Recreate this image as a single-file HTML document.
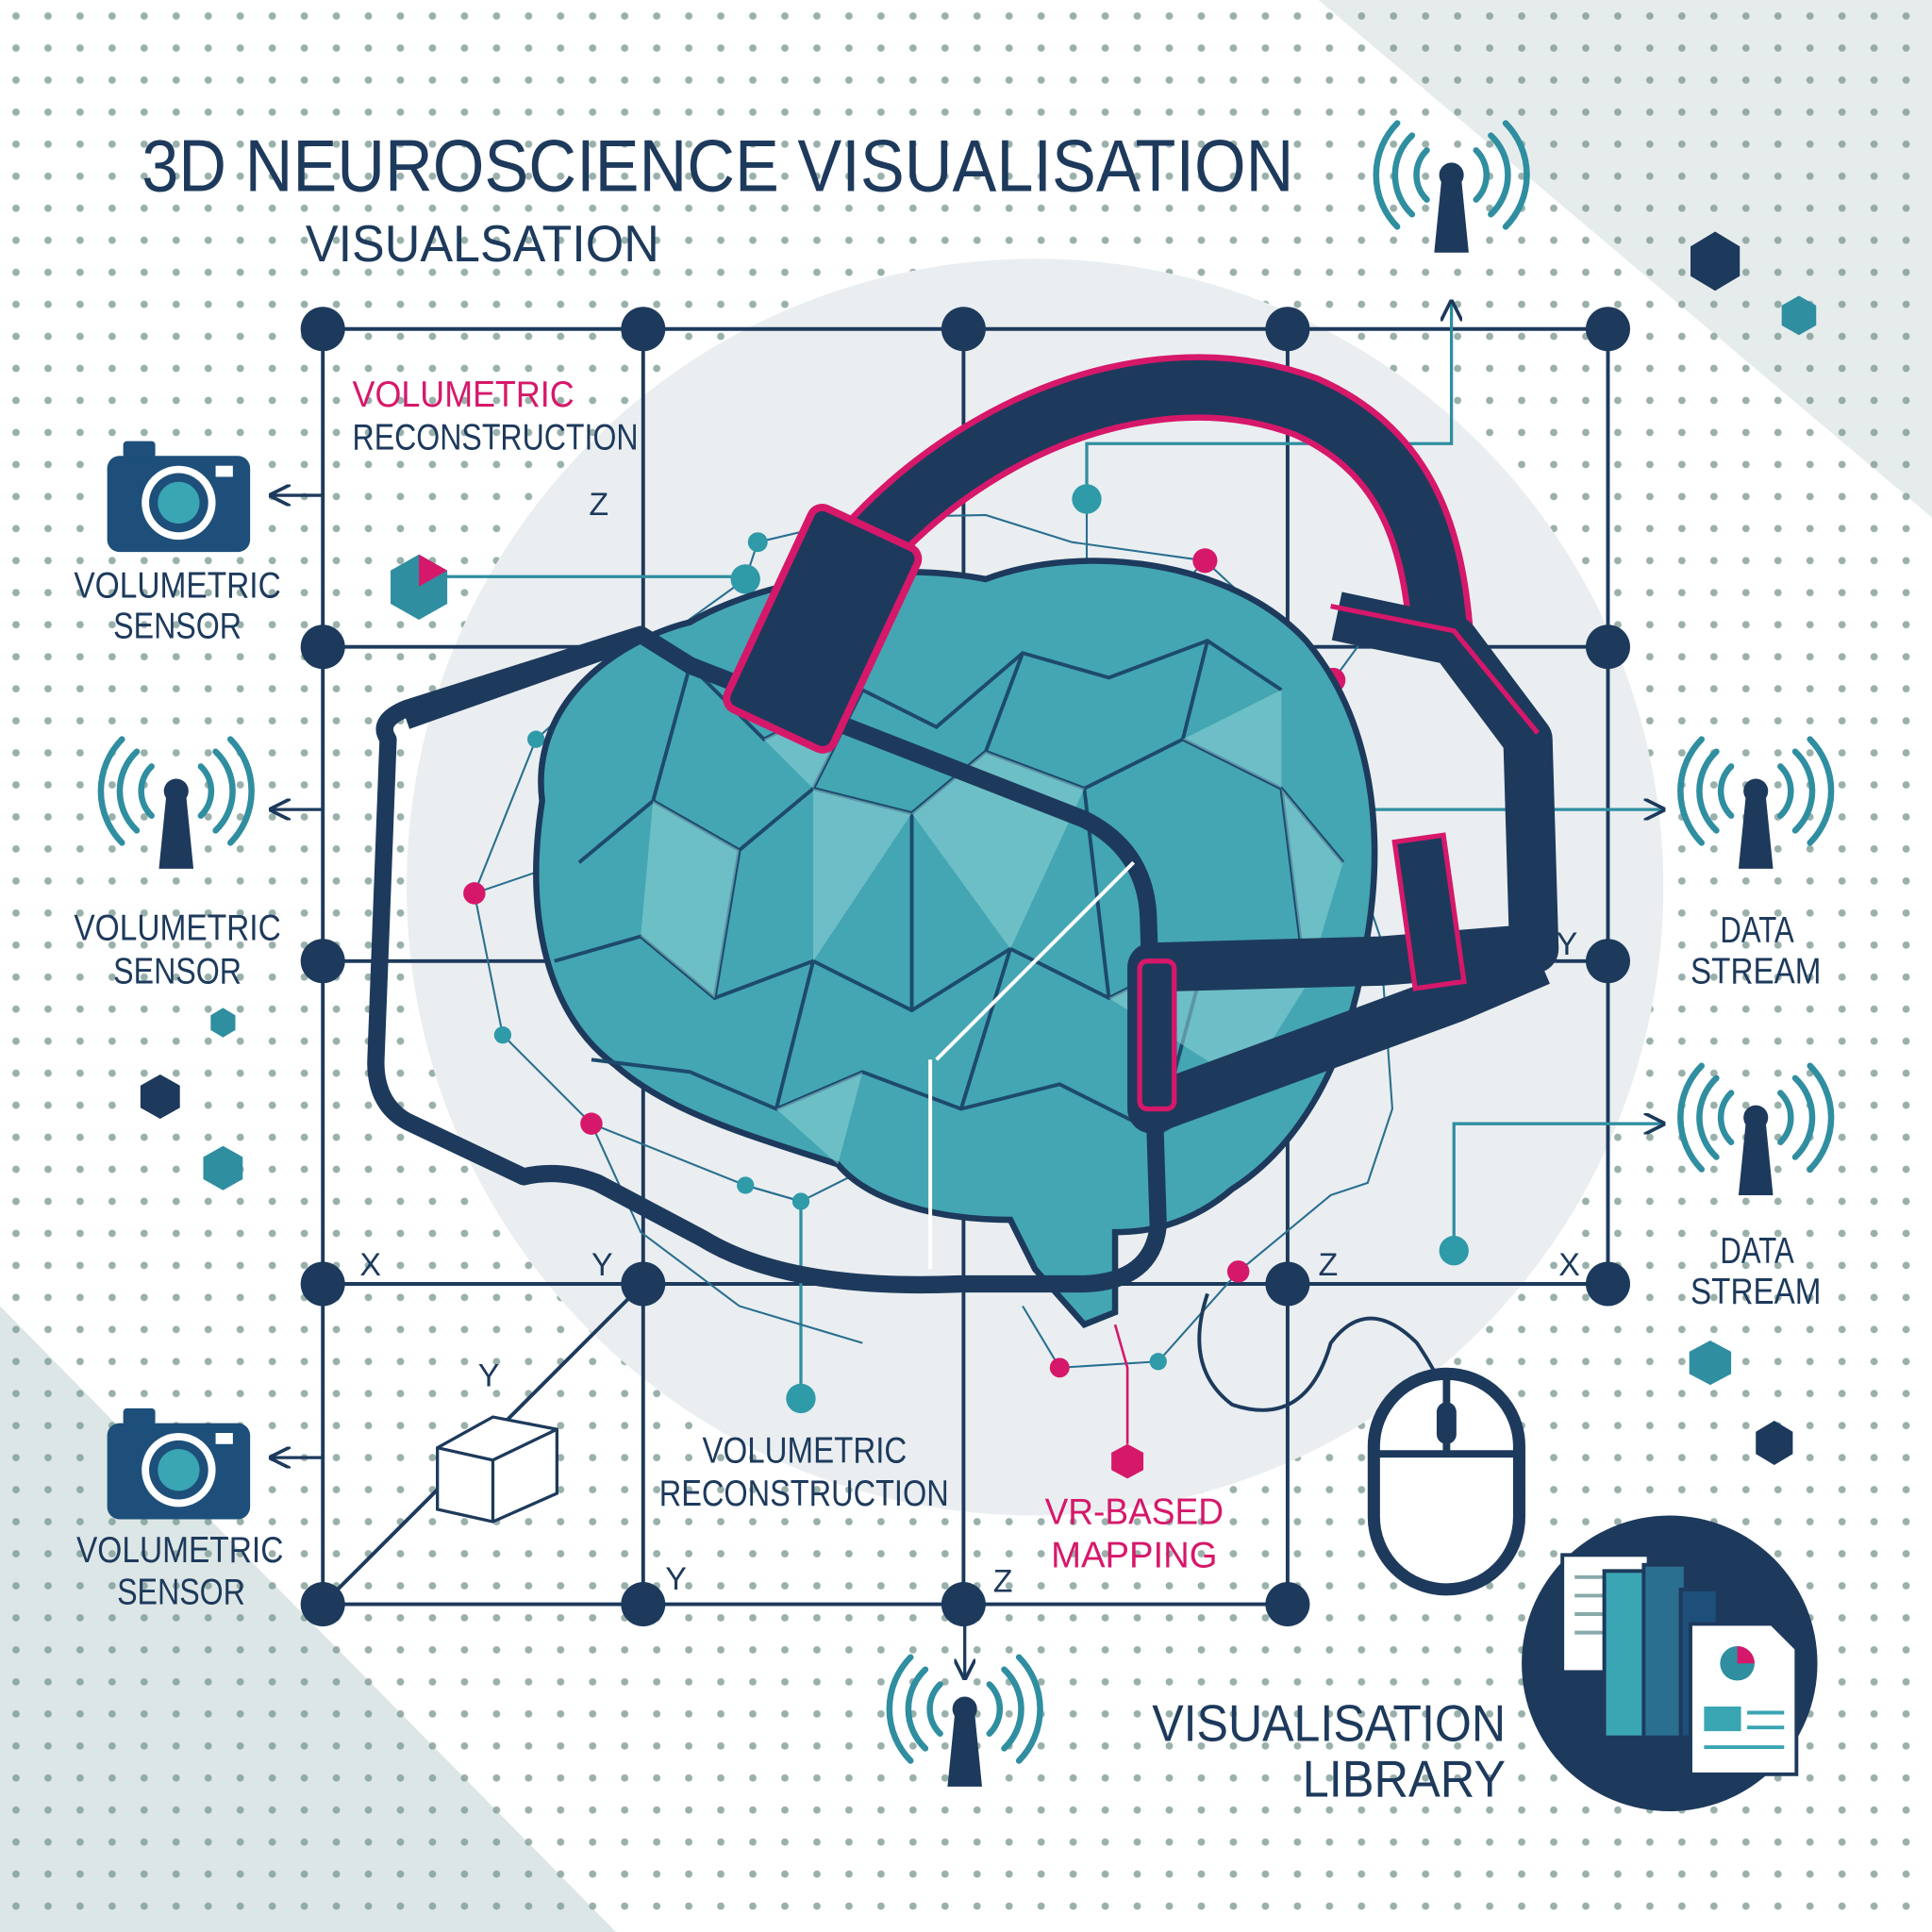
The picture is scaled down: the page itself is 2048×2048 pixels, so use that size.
<!DOCTYPE html>
<html><head><meta charset="utf-8"><style>
html,body{margin:0;padding:0;background:#fff;}
svg{display:block;}
text{font-family:"Liberation Sans",sans-serif;}
</style></head><body>
<svg width="2048" height="2048" viewBox="0 0 1568 1568" xmlns="http://www.w3.org/2000/svg">
<defs>
<pattern id="dots" width="26" height="26" patternUnits="userSpaceOnUse">
<circle cx="13" cy="13" r="3" fill="#7f9c96"/>
</pattern>
<marker id="ar" viewBox="0 0 10 10" refX="9" refY="5" markerWidth="7" markerHeight="7" orient="auto">
<path d="M0,0 L10,5 L0,10" fill="none" stroke="#1d3a5c" stroke-width="1.6"/>
</marker>
<g id="ant">
<path d="M-8,-5 L8,-5 L14,55 L-14,55 Z" fill="#1d3a5c"/>
<circle cx="0" cy="-8" r="10" fill="#1d3a5c"/>
<g fill="none" stroke="#2f8ea0" stroke-width="5" stroke-linecap="round">
<path d="M-20,-28 A28,28 0 0 0 -20,12"/><path d="M20,-28 A28,28 0 0 1 20,12"/>
<path d="M-32,-40 A44,44 0 0 0 -32,24"/><path d="M32,-40 A44,44 0 0 1 32,24"/>
<path d="M-44,-50 A60,60 0 0 0 -44,34"/><path d="M44,-50 A60,60 0 0 1 44,34"/>
</g>
</g>
<g id="cam">
<rect x="-58" y="-35" width="116" height="78" rx="10" fill="#1d4f7a"/>
<rect x="-45" y="-47" width="26" height="14" rx="3" fill="#1d4f7a"/>
<rect x="30" y="-27" width="14" height="9" fill="#fff"/>
<circle cx="0" cy="3" r="30" fill="#fff"/>
<circle cx="0" cy="3" r="24" fill="#1d4f7a"/>
<circle cx="0" cy="3" r="17" fill="#3aa5b3"/>
</g>
</defs>
<rect width="1568" height="1568" fill="#fff"/>
<polygon points="1070,0 1568,0 1568,420" fill="#e6ecec"/>
<polygon points="0,1060 0,1568 500,1568" fill="#dde6e6"/>
<rect width="1568" height="1568" fill="url(#dots)" opacity="0.8"/>
<circle cx="840" cy="720" r="510" fill="#eaeef1"/>
<!-- grid -->
<g stroke="#1d3a5c" stroke-width="3" fill="none">
<path d="M262,267 H1305 M262,525 H1305 M262,780 H1305 M262,1042 H1305 M262,1302 H1045"/>
<path d="M262,267 V1302 M522,267 V1302 M782,267 V1302 M1045,267 V1302 M1305,267 V1042"/>
<path d="M262,1302 L522,1042"/>
</g>
<g fill="#1d3a5c">
<circle cx="262" cy="267" r="18"/><circle cx="522" cy="267" r="18"/><circle cx="782" cy="267" r="18"/><circle cx="1045" cy="267" r="18"/><circle cx="1305" cy="267" r="18"/>
<circle cx="262" cy="525" r="18"/><circle cx="1305" cy="525" r="18"/>
<circle cx="262" cy="780" r="18"/><circle cx="1305" cy="780" r="18"/>
<circle cx="262" cy="1042" r="18"/><circle cx="522" cy="1042" r="18"/><circle cx="1045" cy="1042" r="18"/><circle cx="1305" cy="1042" r="18"/>
<circle cx="262" cy="1302" r="18"/><circle cx="522" cy="1302" r="18"/><circle cx="782" cy="1302" r="18"/><circle cx="1045" cy="1302" r="18"/>
</g>
<!-- connectors -->
<g stroke="#1d3a5c" stroke-width="2.5" fill="none" marker-end="url(#ar)">
<path d="M262,402 H220"/><path d="M262,657 H220"/><path d="M262,1183 H220"/>
<path d="M783,1302 V1362"/>
</g>
<g stroke="#2f8ea0" stroke-width="2.5" fill="none">
<path d="M882,405 V360 H1178 V245" marker-end="url(#ar)"/>
<path d="M1085,657 H1350" marker-end="url(#ar)"/>
<path d="M1180,1015 V912 H1350" marker-end="url(#ar)"/>
<path d="M350,468 H605"/>
<path d="M650,975 V1135"/>
</g>
<!-- network lines -->
<g stroke="#2a6f8f" stroke-width="1.6" fill="none">
<path d="M615,440 L605,470 L480,560 L435,600 L385,725 L408,840 L480,912 L605,962 L650,975"/>
<path d="M615,440 L700,420 L800,418 L870,440 L978,455 L1082,552 L1085,657 L1120,760 L1130,900 L1110,960 L1080,970 L1005,1032"/>
<path d="M605,650 L435,600 M605,650 L385,725 M870,570 L978,455 M870,570 L1082,552 M1082,552 L1120,500 M882,405 V570"/>
<path d="M480,912 L520,1000 L600,1060 L700,1090 M1005,1032 L940,1105 L860,1110 L830,1060"/>
<path d="M605,962 L650,975 L720,940"/>
</g>
<g fill="#2f9aa8">
<circle cx="615" cy="440" r="8"/><circle cx="605" cy="470" r="12"/><circle cx="435" cy="600" r="7"/><circle cx="408" cy="840" r="7"/>
<circle cx="605" cy="962" r="7"/><circle cx="650" cy="975" r="7"/><circle cx="882" cy="405" r="12"/><circle cx="1085" cy="657" r="12"/>
<circle cx="650" cy="1135" r="12"/><circle cx="1180" cy="1015" r="12"/><circle cx="940" cy="1105" r="7"/>
</g>
<g fill="#d6186a">
<circle cx="605" cy="650" r="10"/><circle cx="385" cy="725" r="9"/><circle cx="480" cy="912" r="9"/><circle cx="870" cy="570" r="10"/>
<circle cx="978" cy="455" r="10"/><circle cx="1082" cy="552" r="10"/><circle cx="1005" cy="1032" r="9"/><circle cx="860" cy="1110" r="8"/>
</g>
<!-- brain -->
<path d="M440,650 C430,570 500,520 560,505 C620,470 720,455 800,470 C880,440 1000,455 1060,520 C1115,585 1125,680 1108,770 C1095,860 1055,930 1000,965 C965,995 930,1000 905,1000 L905,1065 L880,1075 L840,1030 L820,990 C760,990 705,975 680,945 C620,925 545,905 500,865 C445,825 425,745 440,650 Z" fill="#44a6b3" stroke="#1d3a5c" stroke-width="5"/>
<g stroke="#1d4a6c" stroke-width="3" fill="none">
<path d="M470,700 L530,650 L600,690 L660,640 L740,660 L800,610 L880,640 L960,600 L1040,640 L1090,700"/>
<path d="M450,780 L520,760 L580,810 L660,780 L740,820 L820,770 L900,810 L980,770 L1060,800 L1100,780"/>
<path d="M480,860 L560,870 L630,900 L700,870 L780,900 L860,880 L940,920 L1010,880"/>
<path d="M560,540 L620,600 L700,560 L760,590 L830,530 L900,550 L980,520 L1040,560"/>
<path d="M530,650 L560,540 M600,690 L580,810 M660,640 L700,560 M740,660 L740,820 M800,610 L830,530 M880,640 L900,810 M960,600 L980,520 M1040,640 L1060,800 M660,780 L630,900 M820,770 L780,900 M980,770 L940,920"/>
</g>
<g fill="#8fd3d6" opacity="0.55">
<polygon points="530,650 600,690 580,810 520,760"/><polygon points="740,660 800,610 880,640 820,770"/>
<polygon points="900,810 980,770 1060,800 1010,880"/><polygon points="620,600 700,560 660,640"/>
<polygon points="960,600 1040,640 1040,560"/><polygon points="630,900 700,870 680,945"/>
<polygon points="660,640 740,660 660,780"/><polygon points="1040,640 1090,700 1060,800"/>
</g>
<!-- headset goggles -->
<path d="M315,600 Q305,585 330,575 L520,515 L560,540 L880,665 Q930,690 932,745 L940,995 Q935,1040 880,1042 L780,1042 Q640,1048 570,1005 L485,960 Q455,948 425,955 L330,910 Q305,896 305,862 Z" fill="none" stroke="#1d3a5c" stroke-width="14" stroke-linejoin="round"/>
<path d="M330,585 L500,525" stroke="#1d3a5c" stroke-width="14"/>
<path d="M760,860 L920,700" stroke="#fff" stroke-width="3"/>
<path d="M755,860 L755,1030" stroke="#fff" stroke-width="3"/>
<!-- strap -->
<path d="M620,580 C690,390 900,270 1060,330 C1150,370 1165,450 1170,530" fill="none" stroke="#d6186a" stroke-width="54"/>
<path d="M620,580 C690,390 900,270 1060,330 C1150,370 1165,450 1170,530" fill="none" stroke="#1d3a5c" stroke-width="44"/>
<path d="M1085,500 L1180,520 L1240,600 L1245,770 L1120,780 L935,785 L935,900 L1180,810 L1250,780" fill="none" stroke="#1d3a5c" stroke-width="40" stroke-linejoin="round"/>
<path d="M1080,492 L1180,512 L1248,595" fill="none" stroke="#d6186a" stroke-width="4"/>
<rect x="925" y="780" width="28" height="120" rx="6" fill="#1d3a5c" stroke="#d6186a" stroke-width="4"/>
<rect x="1140" y="680" width="40" height="120" fill="#1d3a5c" stroke="#d6186a" stroke-width="4" transform="rotate(-8 1160 740)"/>
<rect x="620" y="420" width="95" height="180" rx="10" fill="#1d3a5c" stroke="#d6186a" stroke-width="6" transform="rotate(25 667 510)"/>
<!-- title -->
<text x="115" y="155" font-size="60" fill="#1d3a5c" textLength="935" lengthAdjust="spacingAndGlyphs">3D NEUROSCIENCE VISUALISATION</text>
<text x="248" y="212" font-size="42" fill="#1d3a5c" textLength="287" lengthAdjust="spacingAndGlyphs">VISUALSATION</text>
<g font-size="30" fill="#1d3a5c" lengthAdjust="spacingAndGlyphs">
<text x="286" y="330" fill="#d6186a" textLength="180" lengthAdjust="spacingAndGlyphs">VOLUMETRIC</text>
<text x="286" y="365" textLength="232" lengthAdjust="spacingAndGlyphs">RECONSTRUCTION</text>
<text x="478" y="418" font-size="26">Z</text>
<text x="60" y="485" textLength="168" lengthAdjust="spacingAndGlyphs">VOLUMETRIC</text><text x="92" y="518" textLength="104" lengthAdjust="spacingAndGlyphs">SENSOR</text>
<text x="60" y="763" textLength="168" lengthAdjust="spacingAndGlyphs">VOLUMETRIC</text><text x="92" y="798" textLength="104" lengthAdjust="spacingAndGlyphs">SENSOR</text>
<text x="62" y="1268" textLength="168" lengthAdjust="spacingAndGlyphs">VOLUMETRIC</text><text x="95" y="1302" textLength="104" lengthAdjust="spacingAndGlyphs">SENSOR</text>
<text x="1396" y="765" textLength="60" lengthAdjust="spacingAndGlyphs">DATA</text><text x="1372" y="798" textLength="106" lengthAdjust="spacingAndGlyphs">STREAM</text>
<text x="1396" y="1025" textLength="60" lengthAdjust="spacingAndGlyphs">DATA</text><text x="1372" y="1058" textLength="106" lengthAdjust="spacingAndGlyphs">STREAM</text>
<text x="570" y="1187" textLength="166" lengthAdjust="spacingAndGlyphs">VOLUMETRIC</text><text x="535" y="1222" textLength="235" lengthAdjust="spacingAndGlyphs">RECONSTRUCTION</text>
<text x="848" y="1237" fill="#d6186a" textLength="145" lengthAdjust="spacingAndGlyphs">VR-BASED</text><text x="853" y="1272" fill="#d6186a" textLength="135" lengthAdjust="spacingAndGlyphs">MAPPING</text>
<text x="935" y="1413" font-size="42" textLength="287" lengthAdjust="spacingAndGlyphs">VISUALISATION</text><text x="1057" y="1458" font-size="42" textLength="165" lengthAdjust="spacingAndGlyphs">LIBRARY</text>
<g font-size="26"><text x="292" y="1035">X</text><text x="480" y="1035">Y</text><text x="1070" y="1035">Z</text><text x="1265" y="1035">X</text>
<text x="1263" y="775">Y</text><text x="388" y="1125">Y</text><text x="540" y="1290">Y</text><text x="806" y="1292">Z</text></g>
</g>
<!-- icons -->
<use href="#cam" x="145" y="405"/><use href="#cam" x="145" y="1190"/>
<use href="#ant" x="143" y="650"/><use href="#ant" x="1178" y="150"/><use href="#ant" x="1425" y="650"/><use href="#ant" x="1425" y="915"/><use href="#ant" x="783" y="1395"/>
<!-- hexagons -->
<g fill="#1d3a5c">
<polygon points="1392,188 1412,200 1412,224 1392,236 1372,224 1372,200"/>
<polygon points="130,872 146,881 146,899 130,908 114,899 114,881"/>
<polygon points="1440,1153 1455,1162 1455,1180 1440,1189 1425,1180 1425,1162"/>
</g>
<g fill="#2f8ea0">
<polygon points="1460,240 1474,248 1474,264 1460,272 1446,264 1446,248"/>
<polygon points="181,818 191,824 191,836 181,842 171,836 171,824"/>
<polygon points="181,930 197,939 197,957 181,966 165,957 165,939"/>
<polygon points="1388,1088 1405,1097 1405,1115 1388,1124 1371,1115 1371,1097"/>
</g>
<polygon points="340,450 363,463 363,490 340,503 317,490 317,463" fill="#2f8ea0"/>
<polygon points="340,450 363,463 340,476" fill="#d6186a"/>
<polygon points="915,1172 928,1179 928,1193 915,1200 902,1193 902,1179" fill="#d6186a"/>
<path d="M905,1075 L915,1110 L915,1172" stroke="#d6186a" stroke-width="2" fill="none"/>
<!-- cube -->
<g stroke="#1d3a5c" stroke-width="2.5" fill="#fff">
<polygon points="355,1175 400,1150 452,1160 452,1212 400,1235 355,1225"/>
<path d="M355,1175 L400,1185 L452,1160 M400,1185 V1235" fill="none"/>
</g>
<!-- mouse -->
<path d="M980,1050 Q960,1110 1000,1140 Q1060,1160 1080,1090 Q1110,1050 1150,1090 Q1170,1120 1170,1130" fill="none" stroke="#1d3a5c" stroke-width="3"/>
<rect x="1115" y="1115" width="118" height="175" rx="59" fill="#fff" stroke="#1d3a5c" stroke-width="10"/>
<path d="M1115,1180 H1233 M1174,1115 V1180" stroke="#1d3a5c" stroke-width="6"/>
<rect x="1166" y="1138" width="16" height="34" rx="8" fill="#1d3a5c"/>
<!-- library -->
<circle cx="1355" cy="1350" r="120" fill="#1d3a5c"/>
<rect x="1268" y="1262" width="70" height="95" fill="#fff" stroke="#1d3a5c" stroke-width="3"/>
<g stroke="#8aa" stroke-width="3"><path d="M1278,1280 H1328 M1278,1295 H1328 M1278,1310 H1328 M1278,1325 H1328"/></g>
<rect x="1302" y="1275" width="34" height="135" fill="#3aa5b3" stroke="#1d3a5c" stroke-width="3"/>
<rect x="1334" y="1270" width="34" height="140" fill="#2b6f90" stroke="#1d3a5c" stroke-width="3"/>
<rect x="1364" y="1290" width="30" height="120" fill="#1d4f7a" stroke="#1d3a5c" stroke-width="3"/>
<path d="M1372,1318 H1438 L1458,1338 V1440 H1372 Z" fill="#fff" stroke="#1d3a5c" stroke-width="3"/>
<circle cx="1410" cy="1350" r="14" fill="#2f8ea0"/><path d="M1410,1350 V1336 A14,14 0 0 1 1424,1350 Z" fill="#d6186a"/>
<rect x="1383" y="1385" width="30" height="20" fill="#3aa5b3"/>
<path d="M1418,1390 H1448 M1418,1402 H1448 M1383,1418 H1448" stroke="#3aa5b3" stroke-width="3"/>
</svg>
</body></html>
